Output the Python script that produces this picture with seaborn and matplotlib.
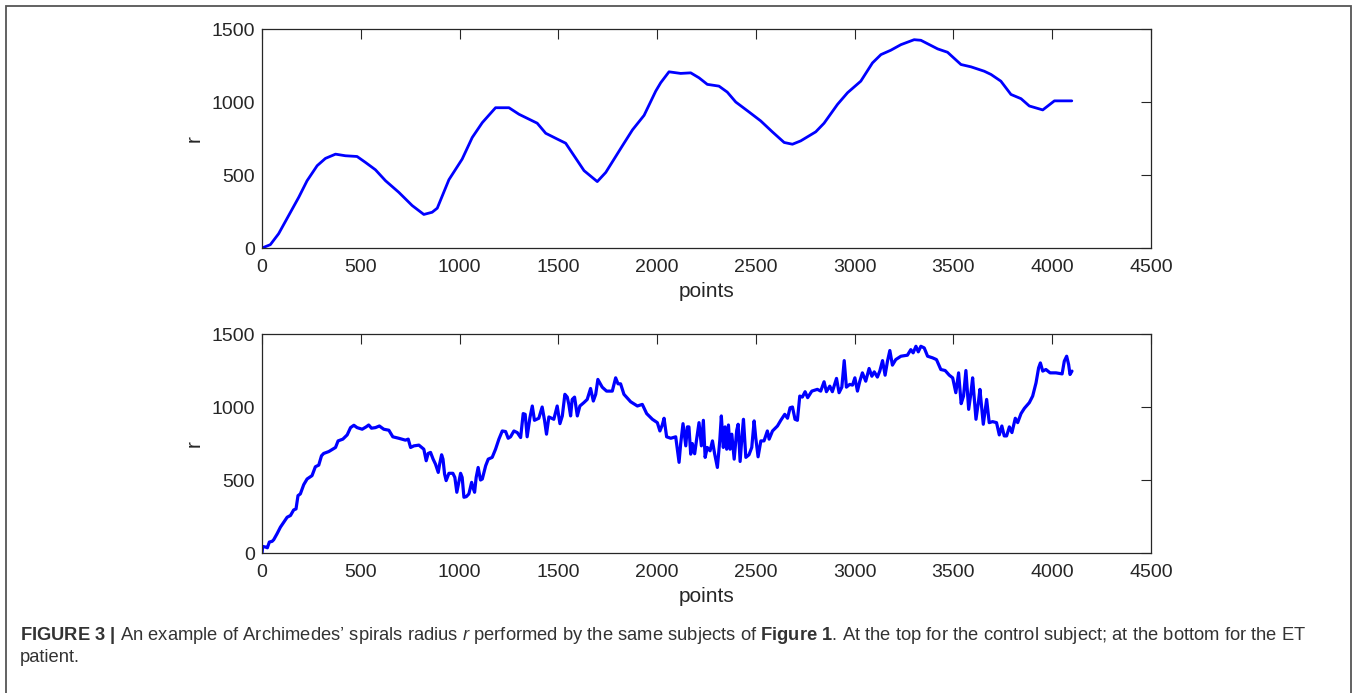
import matplotlib
matplotlib.use('Agg')
import matplotlib.pyplot as plt
import seaborn as sns
import pandas as pd
from matplotlib.patches import Rectangle

# control subject: radius r vs sample index
ctrl_pts = [0, 42, 84, 135, 186, 228, 279, 321, 372, 422, 481, 524, 574, 625, 692, 760,
            819, 861, 887, 946, 1013, 1064, 1115, 1182, 1250, 1301, 1393, 1436, 1495, 1537,
            1630, 1697, 1740, 1824, 1875, 1934, 1993, 2018, 2060, 2119, 2170, 2212, 2254,
            2313, 2355, 2398, 2465, 2524, 2583, 2643, 2685, 2727, 2803, 2845, 2913, 2964,
            3031, 3090, 3133, 3183, 3234, 3301, 3335, 3420, 3470, 3538, 3589, 3656, 3690,
            3740, 3791, 3842, 3884, 3952, 4011, 4099]
ctrl_r = [0, 23, 98, 223, 348, 461, 564, 614, 643, 632, 627, 586, 536, 461, 382, 291,
          230, 245, 273, 468, 609, 757, 859, 961, 961, 916, 855, 786, 746, 718,
          530, 455, 518, 700, 809, 909, 1075, 1132, 1207, 1196, 1200, 1166, 1121,
          1109, 1068, 1000, 932, 871, 796, 723, 711, 734, 796, 855, 984, 1064,
          1143, 1268, 1325, 1355, 1393, 1427, 1423, 1364, 1341, 1257, 1241, 1211, 1189,
          1143, 1052, 1023, 973, 946, 1008, 1008]

# ET patient
et_pts = [0, 3, 17, 27, 37, 51, 59, 76, 93, 110, 127, 144, 160, 172, 182, 194, 211, 228,
          253, 270, 287, 301, 312, 338, 372, 385, 409, 431, 448, 465, 481, 507, 527, 540,
          554, 574, 594, 616, 642, 662, 692, 726, 740, 752, 769, 794, 819, 831, 841, 853,
          866, 878, 892, 899, 909, 916, 924, 932, 946, 966, 976, 986, 996, 1005, 1013,
          1022, 1034, 1047, 1061, 1067, 1076, 1084, 1094, 1106, 1115, 1132, 1145, 1165,
          1182, 1199, 1216, 1233, 1246, 1258, 1275, 1292, 1309, 1322, 1332, 1342, 1356,
          1368, 1379, 1401, 1418, 1430, 1440, 1452, 1477, 1494, 1508, 1520, 1533, 1545,
          1553, 1562, 1570, 1582, 1596, 1609, 1629, 1646, 1663, 1677, 1689, 1700, 1714,
          1722, 1744, 1773, 1790, 1802, 1815, 1832, 1866, 1900, 1925, 1947, 1976, 2001,
          2014, 2026, 2035, 2048, 2069, 2094, 2111, 2119, 2131, 2145, 2153, 2161, 2170,
          2178, 2190, 2200, 2212, 2224, 2234, 2243, 2254, 2268, 2280, 2291, 2305, 2317,
          2325, 2335, 2344, 2352, 2361, 2369, 2378, 2390, 2403, 2410, 2420, 2432, 2437,
          2449, 2465, 2479, 2491, 2499, 2511, 2525, 2541, 2558, 2567, 2584, 2609, 2626,
          2646, 2660, 2673, 2685, 2698, 2710, 2722, 2735, 2749, 2762, 2783, 2811, 2828,
          2845, 2857, 2874, 2887, 2908, 2921, 2935, 2947, 2958, 2975, 2989, 3001, 3014,
          3026, 3039, 3056, 3073, 3087, 3099, 3115, 3127, 3141, 3154, 3166, 3178, 3191,
          3208, 3234, 3267, 3284, 3296, 3310, 3322, 3335, 3352, 3369, 3394, 3414, 3436,
          3458, 3479, 3496, 3512, 3526, 3539, 3551, 3563, 3577, 3588, 3597, 3614, 3627,
          3634, 3651, 3668, 3681, 3698, 3718, 3732, 3745, 3757, 3769, 3783, 3796, 3813,
          3825, 3842, 3859, 3884, 3901, 3918, 3931, 3940, 3952, 3968, 3989, 4019, 4050,
          4061, 4073, 4083, 4090, 4100]
et_r = [0, 45, 41, 36, 75, 80, 91, 132, 177, 211, 245, 257, 295, 302, 393, 405, 468, 507,
        530, 591, 602, 666, 682, 695, 723, 768, 780, 809, 859, 875, 859, 848, 864, 877,
        855, 859, 870, 848, 841, 796, 786, 773, 780, 723, 734, 739, 711, 632, 682, 689,
        643, 609, 552, 609, 673, 643, 541, 496, 546, 546, 518, 416, 484, 546, 518,
        382, 386, 405, 484, 450, 416, 518, 586, 500, 507, 598, 643, 655,
        711, 780, 836, 832, 786, 796, 836, 825, 791, 955, 950, 796, 927,
        1007, 909, 923, 1000, 909, 814, 932, 916, 1007, 886, 939, 1087, 1068,
        1018, 939, 1052, 1068, 939, 1007, 1030, 1052, 1127, 1041, 1087, 1189, 1155,
        1136, 1109, 1109, 1200, 1159, 1159, 1087, 1036, 1007, 1018, 955, 916, 893,
        836, 877, 923, 796, 786, 796, 621, 746, 886, 734, 864, 864, 677,
        750, 680, 780, 893, 734, 909, 655, 723, 700, 768, 680, 586, 768,
        939, 723, 864, 711, 877, 711, 814, 643, 841, 882, 627, 841, 916,
        655, 673, 723, 905, 791, 659, 768, 768, 836, 780, 836, 870, 909,
        950, 923, 995, 1000, 916, 909, 1075, 1068, 1105, 1064, 1109, 1121, 1109,
        1173, 1105, 1143, 1105, 1196, 1098, 1136, 1318, 1136, 1155, 1150, 1200, 1109,
        1177, 1234, 1177, 1264, 1211, 1241, 1205, 1246, 1318, 1218, 1314, 1387, 1287,
        1325, 1348, 1355, 1393, 1371, 1416, 1378, 1416, 1405, 1348, 1337, 1325, 1257,
        1250, 1218, 1200, 1098, 1234, 1023, 1075, 1250, 984, 1091, 1200, 916, 1041,
        1121, 882, 1052, 893, 900, 893, 809, 870, 802, 802, 864, 825, 923,
        893, 955, 991, 1030, 1075, 1166, 1268, 1302, 1246, 1257, 1234, 1234, 1227,
        1314, 1348, 1291, 1223, 1246]

x_ticks = [0, 500, 1000, 1500, 2000, 2500, 3000, 3500, 4000, 4500]
y_ticks = [0, 500, 1000, 1500]

sns.set_style('white')
plt.rcParams['font.family'] = ['Liberation Sans', 'DejaVu Sans']
plt.rcParams['mathtext.fontset'] = 'custom'
plt.rcParams['mathtext.rm'] = 'Liberation Sans'
plt.rcParams['mathtext.it'] = 'Liberation Sans:italic'
plt.rcParams['mathtext.bf'] = 'Liberation Sans:bold'

txt = '#262626'
fig = plt.figure(figsize=(13.57, 6.93), dpi=100)

ax1 = fig.add_axes([0.1931, 0.6421, 0.6551, 0.3160])
ax2 = fig.add_axes([0.1931, 0.2020, 0.6551, 0.3160])

df1 = pd.DataFrame({'points': ctrl_pts, 'r': ctrl_r})
df2 = pd.DataFrame({'points': et_pts, 'r': et_r})
sns.lineplot(data=df1, x='points', y='r', ax=ax1, color='#0000ff', lw=2.0, sort=False)
sns.lineplot(data=df2, x='points', y='r', ax=ax2, color='#0000ff', lw=2.3, sort=False)

for ax in (ax1, ax2):
    ax.set_xlim(0, 4500)
    ax.set_ylim(0, 1500)
    ax.set_xticks(x_ticks)
    ax.set_yticks(y_ticks)
    ax.tick_params(direction='in', length=7, width=0.8, color=txt, labelsize=14,
                   labelcolor=txt, top=True, right=True, pad=5)
    ax.tick_params(axis='x', pad=8)
    for s in ax.spines.values():
        s.set_visible(True)
        s.set_color(txt)
        s.set_linewidth(0.9)
    ax.set_xlabel('points', fontsize=15, color=txt, labelpad=4)
    ax.set_ylabel('r', fontsize=15, color=txt, labelpad=6)

# outer frame of the figure panel
fig.patches.append(Rectangle((6 / 1357, -0.05), 1345 / 1357, 1.05 - 6 / 693,
                             transform=fig.transFigure, fill=False,
                             edgecolor='#555555', lw=1.3))

cap1 = (r'$\mathbf{FIGURE\ 3\ |}$ An example of Archimedes’ spirals radius $\mathit{r}$ '
        r'performed by the same subjects of $\mathbf{Figure\ 1}$. At the top for the '
        r'control subject; at the bottom for the ET')
fig.text(20 / 1357, 1 - 635 / 693, cap1, fontsize=13.2, color='#333333', va='center')
fig.text(20 / 1357, 1 - 658 / 693, 'patient.', fontsize=13.2, color='#333333', va='center')

fig.savefig('out.png', dpi=100)
